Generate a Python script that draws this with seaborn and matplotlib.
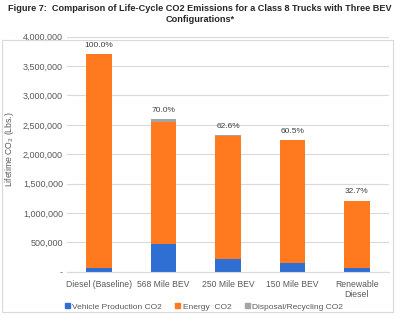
import matplotlib
matplotlib.use("Agg")
import matplotlib.pyplot as plt
import matplotlib.patches as mpatches
import matplotlib.ticker as mticker
import seaborn as sns
import pandas as pd
import numpy as np

categories = ["Diesel (Baseline)", "568 Mile BEV", "250 Mile BEV", "150 Mile BEV", "Renewable\nDiesel"]
vehicle_production = [60000, 470000, 220000, 155000, 62000]
energy = [3640000, 2083000, 2090000, 2080000, 1143000]
disposal = [5000, 40000, 10000, 8000, 5000]
pct_labels = ["100.0%", "70.0%", "62.6%", "60.5%", "32.7%"]
series_names = ["Vehicle Production CO2", "Energy  CO2", "Disposal/Recycling CO2"]
colors = ["#2F6ED3", "#FF7A1E", "#A5A5A5"]

sns.set_theme(style="white")
plt.rcParams["font.family"] = ["Liberation Sans", "DejaVu Sans"]

vp = np.array(vehicle_production)
en = np.array(energy)
dp = np.array(disposal)
df = pd.DataFrame({
    "cat": categories,
    "l1": vp,
    "l2": vp + en,
    "l3": vp + en + dp,
})

fig = plt.figure(figsize=(4.0, 3.21), dpi=100)
ax = fig.add_axes([0.1675, 0.1536, 0.805, 0.7321])

sns.barplot(data=df, x="cat", y="l3", color=colors[2], saturation=1, width=0.4, ax=ax, linewidth=0)
sns.barplot(data=df, x="cat", y="l2", color=colors[1], saturation=1, width=0.4, ax=ax, linewidth=0)
sns.barplot(data=df, x="cat", y="l1", color=colors[0], saturation=1, width=0.4, ax=ax, linewidth=0)

ax.set_ylim(0, 4000000)
ax.yaxis.set_major_locator(mticker.MultipleLocator(500000))
ax.yaxis.set_major_formatter(mticker.FuncFormatter(lambda v, p: "-" if v == 0 else f"{int(v):,}"))
ax.grid(axis="y", color="#D9D9D9", linewidth=0.8)
ax.set_axisbelow(True)
for s in ["left", "right", "top"]:
    ax.spines[s].set_visible(False)
ax.spines["bottom"].set_color("#D9D9D9")
ax.spines["bottom"].set_linewidth(0.8)
ax.tick_params(axis="y", length=0, labelsize=6.5, colors="#595959", pad=3)
ax.tick_params(axis="x", length=0, labelsize=6.2, colors="#595959", pad=6)
ax.set_xlabel("")
ax.set_ylabel("Lifetime CO$_2$ (Lbs.)", fontsize=6.2, color="#595959")
ax.yaxis.set_label_coords(-0.158, 0.52)

totals = df["l3"].values
for i, (t, lab) in enumerate(zip(totals, pct_labels)):
    ax.text(i, t + 150000, lab, ha="center", va="center", fontsize=6.0, color="#404040")

handles = [mpatches.Patch(color=c, label=n) for c, n in zip(colors, series_names)]
fig.legend(handles=handles, loc="center", bbox_to_anchor=(0.51, 0.044), ncol=3, frameon=False,
           fontsize=6.0, handlelength=0.6, handleheight=0.6, handletextpad=0.3, columnspacing=1.6,
           labelcolor="#595959")

fig.text(0.5, 1 - 8.5 / 321, "Figure 7:  Comparison of Life-Cycle CO2 Emissions for a Class 8 Trucks with Three BEV",
         ha="center", va="center", fontsize=6.6, fontweight="bold", color="#262626")
fig.text(0.5, 1 - 19.5 / 321, "Configurations*", ha="center", va="center", fontsize=6.6, fontweight="bold",
         color="#262626")

fig.patches.append(mpatches.Rectangle((0.005, 1 - 312 / 321), 0.978, 272 / 321, transform=fig.transFigure,
                                      fill=False, edgecolor="#D9D9D9", linewidth=0.8))

fig.savefig("out.png", dpi=100)
